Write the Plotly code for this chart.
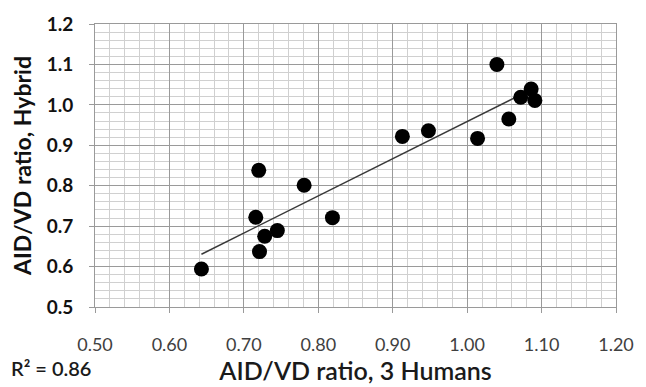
import numpy as np
import plotly.graph_objects as go

# Data
x_humans = [0.643, 0.720, 0.716, 0.721, 0.728, 0.745, 0.781, 0.819,
            0.913, 0.948, 1.014, 1.040, 1.056, 1.072, 1.086, 1.091]
y_hybrid = [0.594, 0.838, 0.722, 0.637, 0.675, 0.689, 0.801, 0.721,
            0.922, 0.936, 0.917, 1.100, 0.965, 1.019, 1.039, 1.011]
x_ticks = [0.50, 0.60, 0.70, 0.80, 0.90, 1.00, 1.10, 1.20]
y_ticks = [0.5, 0.6, 0.7, 0.8, 0.9, 1.0, 1.1, 1.2]
r2_text = "R² = 0.86"
x_title = "AID/VD ratio, 3 Humans"
y_title = "AID/VD ratio, Hybrid"

# Linear trend line (least squares fit of the data)
slope, intercept = np.polyfit(x_humans, y_hybrid, 1)
x_fit = [min(x_humans), max(x_humans)]
y_fit = [slope * v + intercept for v in x_fit]

FONT = "Lato"

fig = go.Figure()
fig.add_trace(go.Scatter(x=x_fit, y=y_fit, mode="lines",
                         line=dict(color="#3a3a3a", width=1.5),
                         hoverinfo="skip", showlegend=False))
fig.add_trace(go.Scatter(x=x_humans, y=y_hybrid, mode="markers",
                         marker=dict(color="black", size=15, line=dict(width=0)),
                         showlegend=False))

grid_major = "#9a9a9a"
grid_minor = "#d0d0d0"

fig.update_xaxes(range=[0.5, 1.2], tickvals=x_ticks,
                 ticktext=[f"{v:.2f}" for v in x_ticks],
                 showgrid=True, gridcolor=grid_major, gridwidth=1,
                 minor=dict(dtick=0.02, showgrid=True, gridcolor=grid_minor, gridwidth=1),
                 showline=True, linecolor=grid_major, linewidth=1, mirror=True,
                 ticks="outside", ticklen=5, tickcolor=grid_major,
                 tickfont=dict(family=FONT, size=18, color="#404040"),
                 ticklabelstandoff=16, ticklabeloverflow="allow",
                 zeroline=False,
                 title=dict(text=x_title, font=dict(family=FONT, size=25, color="#1a1a1a", weight=600),
                            standoff=3))
fig.update_yaxes(range=[0.5, 1.2], tickvals=y_ticks,
                 ticktext=[f"{v:.1f}" for v in y_ticks],
                 showgrid=True, gridcolor=grid_major, gridwidth=1,
                 minor=dict(dtick=0.02, showgrid=True, gridcolor=grid_minor, gridwidth=1),
                 showline=True, linecolor=grid_major, linewidth=1, mirror=True,
                 ticks="outside", ticklen=5, tickcolor=grid_major,
                 tickfont=dict(family=FONT, size=19, color="#111", weight="bold"),
                 ticklabelstandoff=12,
                 zeroline=False,
                 title=dict(text=y_title, font=dict(family=FONT, size=23, color="#111", weight="bold"),
                            standoff=8))

fig.add_annotation(text=r2_text, xref="paper", yref="paper", x=-0.165, y=-0.2155,
                   xanchor="left", yanchor="middle", showarrow=False,
                   font=dict(family=FONT, size=20, color="#1a1a1a", weight=600))

fig.update_layout(width=646, height=387, margin=dict(l=95, r=17, t=19, b=78),
                  paper_bgcolor="white", plot_bgcolor="white")

fig.write_html("out.html")
